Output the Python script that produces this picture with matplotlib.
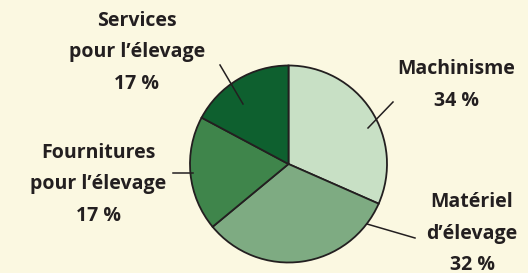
import matplotlib
matplotlib.use("Agg")
import matplotlib.pyplot as plt

# parts of the total, read from the drawn wedges (clockwise from the top)
categories = ["Machinisme", "Matériel\nd’élevage", "Fournitures\npour l’élevage", "Services\npour l’élevage"]
shares = [31.6, 32.4, 18.8, 17.2]
pct_labels = ["34 %", "32 %", "17 %", "17 %"]
colors = ["#c8e0c5", "#7eab82", "#3f854b", "#0e602f"]

BG = "#fbf8e1"
INK = "#231f20"
W, H = 528, 273

fig = plt.figure(figsize=(W / 100, H / 100), dpi=100, facecolor=BG)
ax = fig.add_axes([0, 0, 1, 1])
ax.set_facecolor(BG)

cx, cy, r = 288.5, H - 164, 98.5
ax.pie(shares, colors=colors, startangle=90, counterclock=False,
       center=(cx, cy), radius=r,
       wedgeprops=dict(edgecolor=INK, linewidth=1.3))

ax.set_xlim(0, W)
ax.set_ylim(0, H)
ax.set_aspect("equal")
ax.axis("off")

# label blocks (centre x, first line y in pixels from the top) and leader lines
label_pos = [(456, 69), (472, 202), (98, 153), (137, 21)]
leaders = [((393, 102), (368, 128)),
           ((415, 238), (367, 224)),
           ((173, 173), (193, 173)),
           ((220, 65), (243, 104))]

font = dict(family=["Open Sans", "DejaVu Sans"], fontweight="bold", fontsize=14, color=INK)
for name, pct, (tx, ty), (p0, p1) in zip(categories, pct_labels, label_pos, leaders):
    lines = (name + "\n" + pct).split("\n")
    for i, line in enumerate(lines):
        ax.text(tx, H - ty - i * 31.5, line, ha="center", va="center", **font)
    ax.plot([p0[0], p1[0]], [H - p0[1], H - p1[1]], color=INK, linewidth=1.1)

fig.savefig("out.png", dpi=100, facecolor=BG)
